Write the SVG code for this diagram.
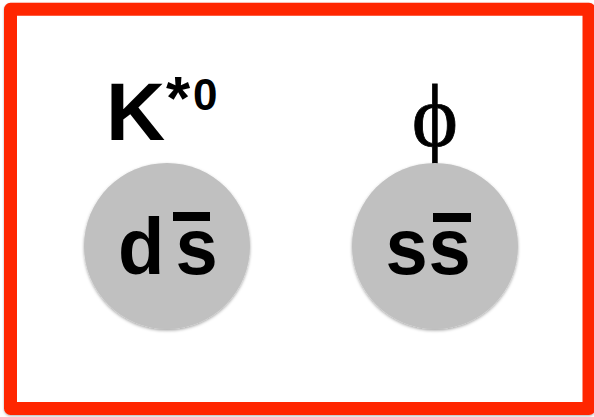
<svg xmlns="http://www.w3.org/2000/svg" width="594" height="417" viewBox="0 0 594 417">
  <defs>
    <filter id="soft" x="-10%" y="-10%" width="120%" height="125%">
      <feDropShadow dx="0" dy="1.5" stdDeviation="1.5" flood-color="#000" flood-opacity="0.35"/>
    </filter>
    <filter id="edge" x="-5%" y="-5%" width="110%" height="110%">
      <feDropShadow dx="0" dy="1" stdDeviation="1" flood-color="#000" flood-opacity="0.3"/>
    </filter>
  </defs>
  <style>
    .meson { fill: #c0c0c0; filter: url(#soft); }
    .quark { font-family: "Liberation Sans", Arial, sans-serif; font-weight: bold; fill: #000; }
    .name { font-family: "Liberation Sans", Arial, sans-serif; font-weight: bold; fill: #000; }
    .bar { fill: #000; }
  </style>

  <!-- frame -->
  <rect x="10.5" y="9.25" width="578.5" height="399.25" fill="#fff" stroke="#ff2600" stroke-width="13" stroke-linejoin="round" filter="url(#edge)"/>

  <!-- K*0 meson: d s-bar -->
  <g id="kstar">
    <text class="name" x="106" y="140" font-size="82">K<tspan x="166" y="119" font-size="62">*</tspan><tspan x="193" y="110" font-size="44">0</tspan></text>
    <circle class="meson" cx="167" cy="246" r="83"/>
    <text class="quark" font-size="80" transform="translate(0,274) scale(0.95,1)" x="124.2 184.7" y="0">ds</text>
    <rect class="bar" x="173" y="212" width="37" height="9"/>
  </g>

  <!-- phi meson: s s-bar -->
  <g id="phi">
    <text x="435" y="146" font-family="'Liberation Serif', 'Times New Roman', serif" font-size="88" text-anchor="middle" fill="#000" stroke="#000" stroke-width="0.8">ϕ</text>
    <circle class="meson" cx="435" cy="246" r="83"/>
    <text class="quark" font-size="80" transform="translate(0,274) scale(0.95,1)" x="405.8 451.1" y="0">ss</text>
    <rect class="bar" x="433" y="213" width="38" height="9"/>
  </g>

  <g id="connectors"/>
</svg>
